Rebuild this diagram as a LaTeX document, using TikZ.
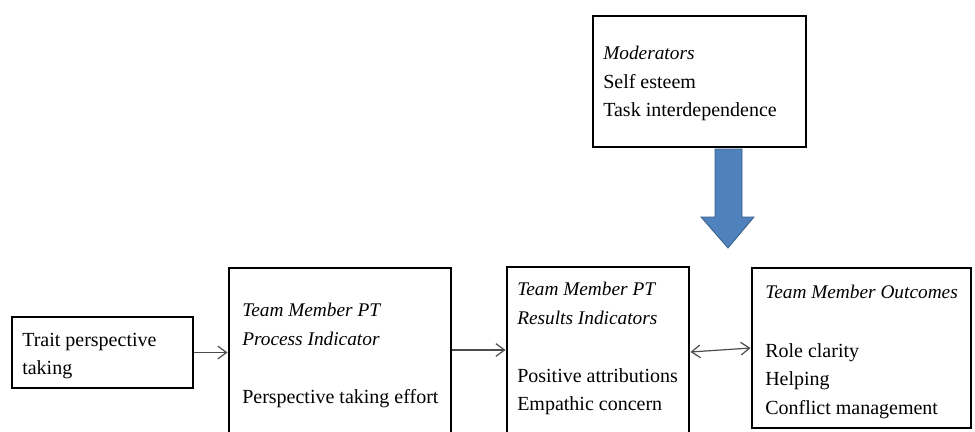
\documentclass[tikz,border=0pt]{standalone}
\usepackage{fontspec}
\setmainfont{Liberation Serif}
\usetikzlibrary{fit,arrows.meta}
\definecolor{arrowblue}{RGB}{79,129,189}
\definecolor{arrowedge}{RGB}{56,93,138}
\begin{document}
\begin{tikzpicture}[x=0.75pt,y=-0.75pt,
  box/.style={draw=black,line width=2.2pt,inner sep=0pt,fill=white},
  txt/.style={anchor=base west,inner sep=0pt,font=\fontsize{15}{18}\selectfont},
  head/.style={anchor=base west,inner sep=0pt,font=\fontsize{14.5}{18}\selectfont\itshape},
  barb/.tip={Straight Barb[length=6.5pt,width=9.5pt,line width=0.9pt]},
  conn/.style={draw=black!70,line width=0.9pt,-barb},
  twoway/.style={draw=black!70,line width=0.9pt,barb-barb}]
\useasboundingbox (0,0) rectangle (975,432);
\clip (0,0) rectangle (975,432);

% box corners
\coordinate (m1) at (593,16);  \coordinate (m2) at (806,147);
\coordinate (t1) at (12,317);  \coordinate (t2) at (193,388);
\coordinate (p1) at (229,268); \coordinate (p2) at (451,460);
\coordinate (r1) at (507,267); \coordinate (r2) at (689,460);
\coordinate (o1) at (752,268); \coordinate (o2) at (971,428);

\node[box,fit=(m1)(m2)] (mod) {};
\node[box,fit=(t1)(t2)] (trait) {};
\node[box,fit=(p1)(p2)] (proc) {};
\node[box,fit=(r1)(r2)] (res) {};
\node[box,fit=(o1)(o2)] (out) {};

% moderators
\node[head] (modh) at (603,60) {Moderators};
\node[txt] (mod1) at (603,88) {Self esteem};
\node[txt] (mod2) at (603,116) {Task interdependence};

% trait
\node[txt] (tr1) at (22,346) {Trait perspective};
\node[txt] (tr2) at (22,374) {taking};

% process indicator
\node[head] (ph1) at (242,316) {Team Member PT};
\node[head] (ph2) at (242,345) {Process Indicator};
\node[txt] (pt1) at (242,403) {Perspective taking effort};

% results indicators
\node[head] (rh1) at (517,295) {Team Member PT};
\node[head] (rh2) at (517,324) {Results Indicators};
\node[txt] (rt1) at (517,382) {Positive attributions};
\node[txt] (rt2) at (517,410) {Empathic concern};

% outcomes
\node[head] (oh1) at (765,298) {Team Member Outcomes};
\node[txt] (ot1) at (765,357) {Role clarity};
\node[txt] (ot2) at (765,385) {Helping};
\node[txt] (ot3) at (765,414) {Conflict management};

% connectors
\coordinate (lvl) at (0,350);
\coordinate (lvlL) at (0,352);
\coordinate (lvlR) at (0,348);
\draw[conn] (trait.east) -- (trait.east -| proc.west);
\draw[conn] (proc.east |- lvl) -- (res.west |- lvl);
\draw[twoway] (res.east |- lvlL) -- (out.west |- lvlR);

% block arrow from the moderators box down between the result boxes
\coordinate (tip) at (728,248);
\fill[arrowblue,draw=arrowedge,line width=0.6pt]
  (715,149) -- (742,149) -- (742,217) -- (754,217) -- (tip)
  -- (701,217) -- (715,217) -- cycle;
\end{tikzpicture}
\end{document}
